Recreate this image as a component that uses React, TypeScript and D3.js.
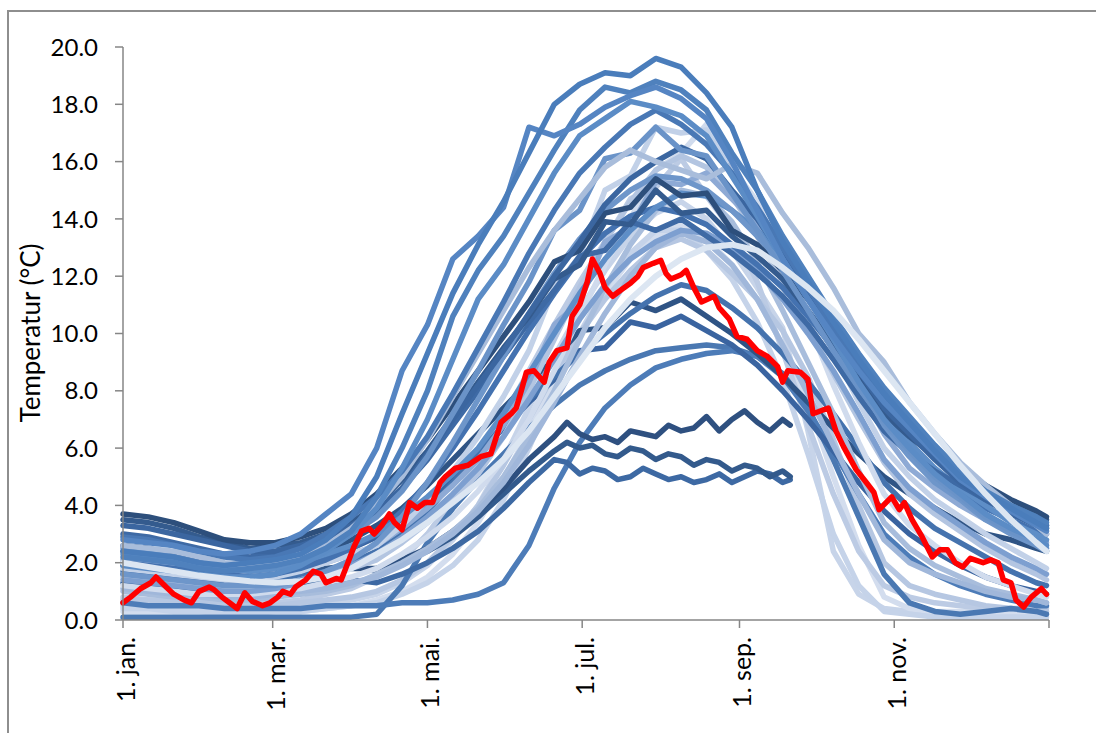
import * as d3 from "d3";

// day of year for every sampled value
const days = [0, 10, 20, 30, 40, 50, 60, 70, 80, 90, 100, 110, 120, 130, 140, 150, 160, 170, 180, 190,
  200, 210, 220, 230, 240, 250, 260, 270, 280, 290, 300, 310, 320, 330, 340, 350, 360, 364];
// the three years that stop in late september are read a bit closer
const plateauDays = [0, 10, 20, 30, 40, 50, 60, 70, 80, 90, 100, 110, 120, 130, 140, 150, 160, 170, 175,
  180, 185, 190, 195, 200, 205, 210, 215, 220, 225, 230, 235, 240, 245, 250, 255, 260, 263];

const xTickDays = [0, 59, 120, 181, 243, 304, 365];
const xTickLabels = ["1. jan.", "1. mar.", "1. mai.", "1. jul.", "1. sep.", "1. nov.", ""];
const yTicks = [0, 2, 4, 6, 8, 10, 12, 14, 16, 18, 20];

// one array per year (°C)
const s1 = [2.4, 2.3, 2.2, 2.0, 1.9, 2.0, 2.1, 2.3, 2.8, 3.6, 5.0, 7.2, 9.3, 11.4, 13.1, 14.6, 16.3, 18.0, 18.7, 19.1, 19.0, 19.6, 19.3, 18.4, 17.2, 15.0, 13.2, 11.8, 10.4, 9.1, 7.9, 6.9, 5.9, 5.0, 4.4, 3.9, 3.4, 3.2];
const s2 = [2.8, 2.7, 2.6, 2.4, 2.3, 2.4, 2.6, 3.0, 3.7, 4.4, 6.0, 8.7, 10.3, 12.6, 13.4, 14.4, 17.2, 16.9, 17.3, 17.9, 18.3, 18.6, 18.2, 17.5, 16.0, 14.3, 12.6, 11.2, 9.9, 8.7, 7.6, 6.7, 5.8, 4.9, 4.3, 3.8, 3.3, 3.1];
const s3 = [2.2, 2.1, 2.0, 1.8, 1.7, 1.8, 1.9, 2.1, 2.5, 3.1, 4.3, 6.0, 8.0, 10.6, 12.2, 13.4, 14.9, 16.4, 17.8, 18.6, 18.4, 18.8, 18.5, 17.8, 16.3, 15.0, 13.4, 12.0, 10.6, 9.3, 8.1, 7.1, 6.1, 5.2, 4.5, 4.0, 3.6, 3.4];
const s4 = [1.9, 1.8, 1.7, 1.6, 1.5, 1.5, 1.6, 1.9, 2.4, 3.0, 3.9, 5.3, 7.0, 9.1, 11.2, 12.4, 14.0, 15.6, 16.9, 17.5, 18.1, 17.9, 17.6, 16.9, 15.5, 14.1, 12.6, 11.2, 9.8, 8.3, 7.0, 6.0, 5.1, 4.4, 3.7, 3.2, 2.8, 2.6];
const s5 = [3.7, 3.6, 3.4, 3.1, 2.8, 2.7, 2.7, 2.9, 3.2, 3.7, 4.4, 5.3, 6.3, 7.5, 8.7, 9.9, 11.1, 12.5, 12.9, 14.2, 14.4, 15.4, 14.8, 14.9, 13.6, 13.1, 12.2, 11.2, 10.1, 8.9, 7.7, 6.8, 6.0, 5.3, 4.7, 4.2, 3.8, 3.6];
const s6 = [3.5, 3.4, 3.2, 2.9, 2.7, 2.5, 2.6, 2.7, 3.0, 3.4, 4.0, 4.9, 5.9, 7.1, 8.3, 9.5, 10.6, 11.9, 12.4, 13.9, 13.8, 15.0, 14.2, 14.3, 13.4, 12.7, 11.9, 10.8, 9.6, 8.4, 7.2, 6.4, 5.7, 5.0, 4.4, 4.0, 3.6, 3.5];
const s7 = [3.3, 3.2, 3.0, 2.8, 2.6, 2.4, 2.4, 2.6, 2.9, 3.3, 3.8, 4.6, 5.8, 7.0, 8.2, 9.4, 10.7, 12.0, 13.2, 14.5, 15.4, 16.0, 16.5, 16.1, 15.0, 14.0, 12.7, 11.4, 10.0, 8.7, 7.4, 6.5, 5.6, 4.8, 4.2, 3.7, 3.4, 3.3];
const s8 = [2.9, 2.8, 2.6, 2.4, 2.2, 2.1, 2.2, 2.5, 3.0, 3.6, 4.3, 5.2, 6.4, 7.9, 9.5, 11.1, 12.8, 14.3, 15.6, 16.5, 17.3, 17.8, 17.3, 16.6, 15.6, 14.4, 13.0, 11.6, 10.2, 9.0, 7.8, 6.8, 5.9, 5.1, 4.4, 3.9, 3.4, 3.3];
const s9 = [2.5, 2.4, 2.2, 2.0, 1.9, 1.8, 1.9, 2.1, 2.5, 3.0, 3.6, 4.5, 5.7, 7.2, 8.7, 10.3, 11.8, 13.6, 14.3, 16.1, 16.3, 17.2, 16.4, 16.2, 14.9, 13.6, 12.2, 10.8, 9.4, 8.1, 6.9, 5.9, 5.0, 4.3, 3.6, 3.1, 2.7, 2.5];
const s10 = [2.6, 2.5, 2.4, 2.2, 2.0, 1.9, 2.0, 2.2, 2.6, 3.2, 4.0, 5.0, 6.3, 7.8, 9.3, 10.8, 12.3, 13.6, 14.7, 15.8, 16.4, 16.0, 15.7, 15.4, 15.9, 15.6, 14.2, 13.0, 11.6, 10.0, 9.0, 7.6, 6.5, 5.5, 4.7, 4.0, 3.3, 3.0];
const s11 = [1.8, 1.7, 1.6, 1.5, 1.4, 1.4, 1.5, 1.7, 2.0, 2.3, 2.6, 3.3, 4.2, 5.2, 6.4, 7.8, 9.4, 11.6, 12.7, 15.0, 15.5, 17.2, 17.0, 17.1, 15.6, 14.2, 12.6, 11.0, 9.4, 7.6, 6.0, 5.0, 4.2, 3.6, 3.0, 2.5, 2.0, 1.8];
const s12 = [1.5, 1.4, 1.3, 1.2, 1.1, 1.1, 1.2, 1.4, 1.6, 1.8, 2.1, 2.7, 3.4, 4.2, 5.1, 6.4, 8.0, 9.8, 11.6, 13.2, 14.6, 15.7, 16.2, 15.8, 14.8, 13.4, 11.8, 10.2, 8.6, 7.0, 5.5, 4.4, 3.7, 3.1, 2.5, 2.0, 1.6, 1.4];
const s13 = [2.1, 2.0, 1.9, 1.7, 1.6, 1.5, 1.6, 1.8, 2.0, 2.3, 2.6, 3.2, 3.9, 4.7, 5.6, 6.8, 8.3, 10.3, 11.1, 13.2, 13.7, 15.3, 15.2, 15.6, 14.7, 13.8, 12.6, 11.2, 9.7, 8.1, 6.5, 5.3, 4.6, 4.0, 3.5, 3.1, 2.8, 2.7];
const s14 = [2.3, 2.2, 2.1, 1.9, 1.8, 1.7, 1.8, 2.0, 2.3, 2.6, 3.0, 3.6, 4.3, 5.1, 6.0, 7.2, 8.6, 10.0, 11.4, 12.6, 13.6, 14.4, 14.9, 14.8, 14.3, 13.6, 12.7, 11.6, 10.3, 8.8, 7.3, 6.2, 5.3, 4.6, 4.0, 3.4, 3.0, 2.8];
const s15 = [2.0, 1.9, 1.8, 1.7, 1.6, 1.5, 1.6, 1.8, 2.1, 2.5, 3.0, 3.8, 4.8, 6.0, 7.3, 8.7, 10.1, 11.4, 12.6, 13.5, 14.1, 14.4, 14.2, 13.8, 13.1, 12.4, 11.6, 10.6, 9.5, 8.2, 6.9, 6.0, 5.2, 4.5, 3.9, 3.5, 3.1, 3.0];
const s16 = [1.2, 1.1, 1.0, 0.9, 0.9, 0.9, 1.0, 1.1, 1.3, 1.5, 1.8, 2.3, 2.9, 3.6, 4.5, 5.6, 7.0, 8.7, 10.6, 12.4, 14.0, 15.7, 16.3, 17.3, 15.8, 14.6, 12.6, 10.4, 8.2, 6.2, 4.4, 3.3, 2.6, 2.0, 1.5, 1.2, 0.9, 0.8];
const s17 = [1.0, 0.9, 0.8, 0.8, 0.7, 0.7, 0.8, 0.9, 1.0, 1.2, 1.6, 2.0, 2.5, 3.1, 3.9, 5.0, 6.4, 8.0, 9.8, 11.6, 13.1, 14.3, 15.0, 14.8, 13.9, 12.5, 10.8, 9.0, 7.2, 5.2, 3.4, 2.5, 1.9, 1.5, 1.1, 0.9, 0.7, 0.6];
const s18 = [0.5, 0.5, 0.4, 0.4, 0.4, 0.4, 0.4, 0.5, 0.6, 0.7, 0.9, 1.3, 1.9, 2.8, 4.0, 5.6, 7.4, 9.2, 10.8, 12.2, 13.4, 14.2, 14.6, 14.0, 12.9, 11.6, 10.2, 6.6, 2.4, 0.9, 0.4, 0.3, 0.2, 0.2, 0.2, 0.2, 0.2, 0.2];
const s19 = [0.3, 0.3, 0.3, 0.3, 0.2, 0.2, 0.3, 0.3, 0.4, 0.5, 0.7, 1.0, 1.5, 2.3, 3.4, 4.9, 6.6, 8.4, 10.0, 11.4, 12.6, 13.4, 13.8, 13.3, 12.4, 11.2, 9.6, 7.6, 5.0, 2.6, 0.8, 0.4, 0.3, 0.3, 0.3, 0.3, 0.3, 0.3];
const s20 = [0.8, 0.7, 0.7, 0.6, 0.6, 0.6, 0.6, 0.7, 0.9, 1.1, 1.5, 2.1, 3.0, 4.2, 5.6, 7.1, 8.7, 10.3, 11.8, 13.2, 14.7, 15.1, 16.1, 14.8, 13.6, 11.8, 9.4, 6.8, 4.4, 2.4, 1.2, 0.8, 0.6, 0.5, 0.4, 0.4, 0.4, 0.4];
const s21 = [0.1, 0.1, 0.1, 0.1, 0.1, 0.1, 0.1, 0.1, 0.1, 0.1, 0.2, 1.2, 2.7, 3.9, 4.9, 5.8, 6.7, 7.5, 8.2, 8.7, 9.1, 9.4, 9.5, 9.6, 9.5, 9.2, 8.6, 7.4, 5.6, 3.6, 1.6, 0.6, 0.3, 0.2, 0.3, 0.4, 0.3, 0.2];
const s22 = [0.6, 0.5, 0.5, 0.5, 0.4, 0.4, 0.4, 0.4, 0.5, 0.5, 0.5, 0.6, 0.6, 0.7, 0.9, 1.3, 2.6, 4.6, 6.2, 7.4, 8.2, 8.8, 9.1, 9.3, 9.4, 9.2, 8.5, 7.3, 5.9, 4.4, 3.0, 2.2, 1.6, 1.2, 0.9, 0.7, 0.5, 0.5];
const s23 = [1.6, 1.5, 1.4, 1.3, 1.2, 1.2, 1.3, 1.4, 1.6, 1.8, 1.8, 2.1, 2.5, 3.1, 3.8, 4.6, 5.6, 6.4, 6.9, 6.5, 6.3, 6.4, 6.2, 6.6, 6.5, 6.4, 6.8, 6.6, 6.7, 7.1, 6.6, 7.0, 7.3, 6.9, 6.6, 7.0, 6.8];
const s24 = [1.9, 1.8, 1.7, 1.6, 1.5, 1.4, 1.5, 1.6, 1.8, 1.9, 1.7, 2.0, 2.4, 2.9, 3.6, 4.4, 5.2, 5.9, 6.2, 6.0, 6.1, 5.8, 5.7, 6.0, 5.9, 5.6, 5.8, 5.7, 5.4, 5.6, 5.5, 5.2, 5.4, 5.3, 5.0, 5.2, 5.0];
const s25 = [1.3, 1.2, 1.1, 1.0, 1.0, 1.0, 1.1, 1.2, 1.3, 1.4, 1.3, 1.6, 2.0, 2.5, 3.1, 3.9, 4.8, 5.6, 5.5, 5.1, 5.3, 5.2, 4.9, 5.0, 5.3, 5.1, 4.9, 5.0, 4.8, 4.9, 5.1, 4.8, 5.0, 5.2, 5.1, 4.8, 4.9];
const s26 = [2.6, 2.5, 2.3, 2.1, 1.9, 1.8, 1.9, 2.1, 2.4, 2.8, 3.3, 3.9, 4.7, 5.6, 6.5, 7.4, 8.3, 9.1, 10.1, 10.2, 11.1, 10.8, 11.2, 10.6, 10.0, 9.3, 8.5, 7.6, 6.7, 5.8, 5.0, 4.4, 3.9, 3.4, 3.0, 2.8, 2.5, 2.4];
const s27 = [2.4, 2.3, 2.1, 1.9, 1.8, 1.7, 1.8, 2.0, 2.2, 2.5, 2.9, 3.4, 4.1, 4.9, 5.8, 6.7, 7.6, 8.4, 9.4, 9.5, 10.4, 10.2, 10.6, 10.1, 9.6, 8.9, 8.0, 7.0, 5.9, 4.8, 3.8, 3.0, 2.4, 1.9, 1.5, 1.2, 1.0, 0.9];
const s28 = [1.7, 1.6, 1.5, 1.4, 1.3, 1.3, 1.4, 1.5, 1.7, 2.0, 2.4, 3.0, 3.8, 4.8, 5.8, 6.8, 7.7, 8.5, 9.3, 10.0, 10.7, 11.3, 11.7, 11.5, 10.9, 10.2, 9.3, 8.3, 7.2, 6.0, 4.8, 3.9, 3.2, 2.7, 2.2, 1.7, 1.3, 1.2];
const s29 = [1.4, 1.3, 1.2, 1.1, 1.0, 1.0, 1.1, 1.3, 1.6, 1.9, 2.3, 2.9, 3.6, 4.4, 5.3, 6.4, 7.7, 9.1, 10.5, 11.7, 12.6, 13.2, 13.6, 13.5, 13.0, 12.2, 11.2, 10.0, 8.7, 7.2, 5.6, 4.6, 3.9, 3.3, 2.7, 2.2, 1.8, 1.6];
const s30 = [1.1, 1.0, 0.9, 0.9, 0.8, 0.8, 0.9, 1.0, 1.1, 1.3, 1.5, 1.9, 2.4, 3.0, 3.8, 4.8, 6.1, 7.6, 9.2, 10.7, 12.0, 13.0, 13.5, 13.2, 12.4, 11.2, 9.6, 7.9, 6.1, 4.4, 2.8, 2.0, 1.6, 1.3, 1.0, 0.8, 0.7, 0.6];
const s31 = [3.0, 2.9, 2.7, 2.5, 2.3, 2.2, 2.3, 2.5, 2.8, 3.2, 3.8, 4.6, 5.6, 6.8, 8.0, 9.2, 10.4, 11.5, 12.7, 12.9, 13.9, 13.6, 14.0, 13.4, 12.8, 12.1, 11.3, 10.3, 9.1, 7.8, 6.6, 5.8, 5.2, 4.7, 4.2, 3.7, 3.3, 3.2];
const s32 = [0.4, 0.4, 0.3, 0.3, 0.3, 0.3, 0.3, 0.3, 0.4, 0.5, 0.6, 0.9, 1.3, 1.9, 2.8, 4.2, 6.0, 8.0, 10.0, 11.6, 12.8, 13.6, 13.6, 12.9, 11.9, 10.4, 8.4, 5.8, 3.0, 1.2, 0.3, 0.2, 0.1, 0.1, 0.1, 0.1, 0.1, 0.1];
const s33 = [0.7, 0.7, 0.6, 0.6, 0.5, 0.5, 0.5, 0.6, 0.7, 0.8, 1.0, 1.4, 2.0, 2.9, 4.0, 5.4, 7.0, 8.6, 10.0, 11.2, 12.2, 13.0, 13.3, 12.9, 12.1, 11.2, 10.1, 8.5, 6.3, 4.0, 2.0, 1.2, 0.9, 0.7, 0.5, 0.4, 0.3, 0.3];
const s34 = [1.6, 1.5, 1.4, 1.3, 1.2, 1.2, 1.2, 1.4, 1.7, 2.1, 2.7, 3.6, 4.8, 6.2, 7.7, 9.2, 10.7, 12.1, 13.3, 14.3, 15.0, 15.5, 15.4, 15.0, 14.3, 13.4, 12.4, 11.2, 9.9, 8.3, 6.8, 5.7, 4.8, 4.2, 3.5, 3.0, 2.6, 2.4];

// pale smooth reference curve
const normal = [2.0, 1.85, 1.7, 1.55, 1.45, 1.35, 1.3, 1.35, 1.5, 1.8, 2.3, 2.8, 3.4, 4.1, 4.8, 5.6, 6.6, 7.8, 9.0, 10.2, 11.2, 12.0, 12.6, 13.0, 13.1, 12.9, 12.3, 11.6, 10.8, 9.8, 8.7, 7.6, 6.5, 5.4, 4.4, 3.5, 2.7, 2.4];

// highlighted year (red)
const redDays = [0, 3, 7, 11, 13, 17, 20, 24, 27, 30, 34, 36, 39, 42, 45, 48, 51, 55, 58, 61, 63, 66, 68, 72, 75, 78, 80, 84, 86, 88, 91, 94, 97, 99, 102, 105, 107, 110, 113, 116, 119, 122, 125, 127, 131, 136, 141, 145, 149, 153, 155, 157, 159, 162, 164, 166, 168, 171, 175, 177, 180, 183, 185, 188, 190, 193, 196, 200, 203, 205, 209, 212, 214, 216, 220, 222, 225, 228, 233, 235, 239, 242, 246, 250, 254, 258, 260, 262, 267, 270, 272, 278, 281, 284, 289, 293, 296, 298, 303, 306, 308, 311, 315, 319, 322, 325, 328, 331, 334, 339, 342, 345, 347, 350, 352, 355, 358, 360, 362, 364];
const redTemp = [0.6, 0.8, 1.1, 1.3, 1.5, 1.15, 0.9, 0.7, 0.6, 1.0, 1.15, 1.05, 0.8, 0.6, 0.4, 0.95, 0.65, 0.5, 0.6, 0.8, 1.0, 0.9, 1.15, 1.4, 1.7, 1.6, 1.3, 1.45, 1.4, 1.85, 2.55, 3.1, 3.2, 3.0, 3.3, 3.7, 3.4, 3.15, 4.1, 3.9, 4.1, 4.1, 4.8, 5.0, 5.3, 5.4, 5.7, 5.8, 6.9, 7.2, 7.4, 8.0, 8.65, 8.7, 8.5, 8.3, 9.0, 9.4, 9.5, 10.6, 11.0, 11.8, 12.6, 12.1, 11.6, 11.3, 11.5, 11.75, 12.0, 12.3, 12.45, 12.55, 12.1, 11.9, 12.05, 12.2, 11.6, 11.1, 11.3, 10.9, 10.5, 9.9, 9.8, 9.4, 9.2, 8.85, 8.3, 8.7, 8.65, 8.4, 7.2, 7.4, 6.6, 6.05, 5.25, 4.8, 4.45, 3.85, 4.3, 3.85, 4.1, 3.5, 2.9, 2.2, 2.45, 2.45, 2.0, 1.85, 2.15, 2.0, 2.1, 2.0, 1.4, 1.3, 0.7, 0.45, 0.8, 0.95, 1.1, 0.9];

const series = [
  { v: s18, c: "#c7d4e9" }, { v: s19, c: "#d3ddee" }, { v: s32, c: "#c5d3e9" }, { v: s20, c: "#bccbe4" },
  { v: s33, c: "#b6c7e2" }, { v: s21, c: "#4a78b2" }, { v: s22, c: "#4d7cb8" },
  { v: s25, c: "#3d69a3", d: plateauDays }, { v: s24, c: "#335a8c", d: plateauDays }, { v: s23, c: "#2e5080", d: plateauDays },
  { v: s27, c: "#3a64a0" }, { v: s26, c: "#2f5485" },
  { v: s28, c: "#4573ae" }, { v: s17, c: "#a8bddc" }, { v: s30, c: "#a0b7da" }, { v: s16, c: "#d0dbed" },
  { v: s12, c: "#b3c5e1" }, { v: s29, c: "#7d9fd0" }, { v: s13, c: "#8eaad5" }, { v: s11, c: "#c2d1e8" },
  { v: s15, c: "#4472b0" }, { v: s14, c: "#5e8ec7" }, { v: s31, c: "#3e6aa5" }, { v: s34, c: "#6e96ca" },
  { v: s6, c: "#345b8e" }, { v: s5, c: "#2d4f7c" }, { v: s7, c: "#3b66a0" }, { v: s9, c: "#6a93c8" },
  { v: s10, c: "#a9bddb" }, { v: s8, c: "#4978b5" }, { v: s4, c: "#5b8cc6" }, { v: s3, c: "#4f81bd" },
  { v: s2, c: "#5585c3" }, { v: s1, c: "#4a7dbb" },
];

const W = 1096;
const H = 733;
const font = "Lato, 'Open Sans', sans-serif";
const axisColor = "#868686";

export default function App() {
  const x = d3.scaleLinear().domain([0, 365]).range([123, 1049]);
  const y = d3.scaleLinear().domain([0, 20]).range([620, 47]);

  const lineFor = (dayArr: number[]) =>
    d3
      .line<number>()
      .x((_, i) => x(dayArr[i]))
      .y((d) => y(d));

  return (
    <svg
      width={W}
      height={H}
      style={{ position: "absolute", left: 0, top: 0, background: "#fff" }}
    >
      <rect x={8} y={11} width={1200} height={800} fill="none" stroke="#8e8e8e" strokeWidth={2} />

      {/* years */}
      <g fill="none" strokeWidth={5.5} strokeLinejoin="round" strokeLinecap="round">
        {series.map((s, i) => (
          <path key={i} d={lineFor(s.d || days)(s.v) || ""} stroke={s.c} />
        ))}
        <path d={lineFor(days)(normal) || ""} stroke="#dce6f2" strokeWidth={6} />
        <path d={lineFor(redDays)(redTemp) || ""} stroke="#ff0000" strokeWidth={5.5} />
      </g>

      {/* y axis */}
      <line x1={123} x2={123} y1={y(20)} y2={y(0)} stroke={axisColor} strokeWidth={1.5} />
      {yTicks.map((t) => (
        <g key={t}>
          <line x1={115} x2={123} y1={y(t)} y2={y(t)} stroke={axisColor} strokeWidth={1.5} />
          <text
            x={98}
            y={y(t)}
            dy="0.36em"
            textAnchor="end"
            fontFamily={font}
            fontSize={24}
            fill="#000"
          >
            {t.toFixed(1)}
          </text>
        </g>
      ))}
      <text
        transform="translate(40,333) rotate(-90)"
        textAnchor="middle"
        fontFamily={font}
        fontSize={26}
        fill="#000"
      >
        Temperatur (°C)
      </text>

      {/* x axis */}
      <line x1={x(0)} x2={x(365)} y1={y(0)} y2={y(0)} stroke={axisColor} strokeWidth={1.5} />
      {xTickDays.map((d, i) => (
        <g key={d}>
          <line x1={x(d)} x2={x(d)} y1={y(0)} y2={y(0) + 8} stroke={axisColor} strokeWidth={1.5} />
          <text
            transform={`translate(${x(d) + 12},637) rotate(-90)`}
            textAnchor="end"
            fontFamily={font}
            fontSize={25}
            fill="#000"
          >
            {xTickLabels[i]}
          </text>
        </g>
      ))}
    </svg>
  );
}
